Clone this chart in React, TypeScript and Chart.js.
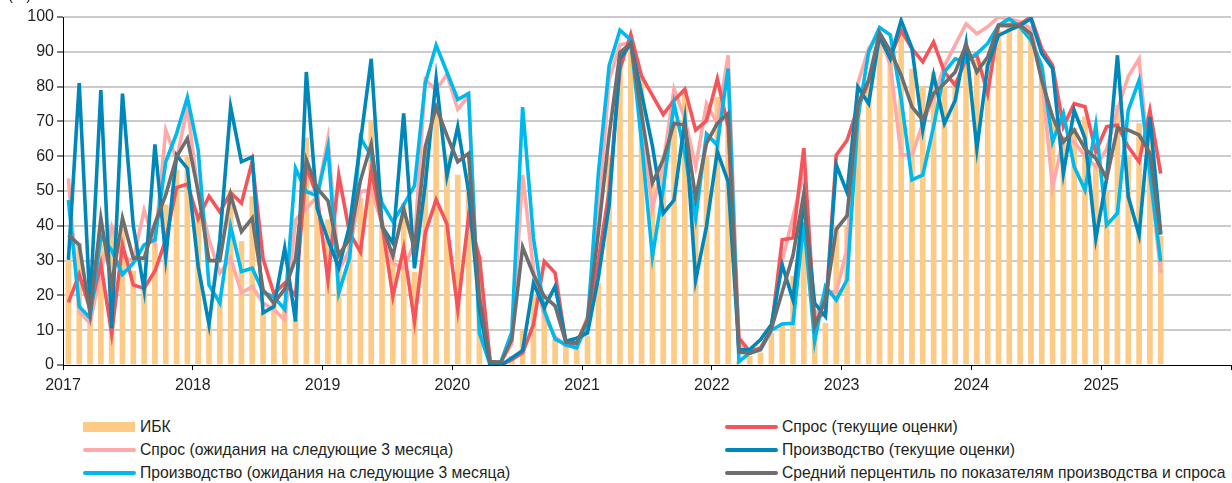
import React, { useEffect, useRef } from 'react';
import { Chart, registerables } from 'chart.js';

Chart.register(...registerables);

// Year tick labels (ticks every 12 months, starting January 2017)
const yearLabels = ['2017', '2018', '2019', '2020', '2021', '2022', '2023', '2024', '2025'];

// Monthly values, Jan 2017 – Jun 2025
const ibk = [
  30, 35, 15, 40, 40, 39, 27, 22.5, 35, 46, 56, 60,
  42.6, 11, 19, 50.3, 35.5, 48.4, 15, 18.7, 17.8, 13, 65.3, 48.4,
  41.7, 30, 35, 48, 70, 40.7, 33, 46.5, 26.7, 61.8, 74.2, 60.3,
  54.6, 55, 31, 0.5, 1, 2.5, 10, 19.7, 17, 7.3, 5.4, 4.9,
  8.2, 23.5, 60, 88, 92.4, 83, 52, 60, 70.4, 79, 45, 60,
  77, 70, 1, 2.5, 3.5, 9.2, 12, 25.5, 48, 8, 12, 40,
  40, 77, 79.4, 93, 88, 95.7, 85, 80, 84.2, 80, 82, 92,
  88, 88, 96, 99.5, 98.5, 97, 85, 71, 65, 68, 71.3, 58,
  50, 74.7, 60, 69.4, 68, 37,
];

const demandCurrent = [
  18, 26, 16, 29, 9, 34.5, 23, 22, 27, 36, 51, 52,
  42, 48.5, 44, 49.5, 46.5, 58.5, 30.5, 20.5, 23.5, 20, 57, 48.5,
  24.5, 54.5, 38, 32.5, 56, 40.5, 19.7, 33.6, 12.5, 38, 47.5, 40.5,
  16, 42.5, 31, 1, 0, 1.5, 3.5, 11.6, 29.8, 26.5, 6.3, 6.3,
  13, 30, 50, 85, 95, 83, 77.5, 72, 76, 79.2, 67.5, 70.2,
  82.2, 68.4, 7.7, 3.9, 4.9, 10.3, 36, 36.5, 62.3, 13, 15, 60.3,
  64.6, 74, 81.4, 93.8, 88.5, 96.2, 90.9, 87.1, 92.8, 84.2, 80.4, 88,
  89, 78, 97.6, 97.6, 98, 100, 90.9, 86.1, 68.5, 75.1, 74.2, 61.3,
  68.5, 68.9, 62.7, 58.4, 73.2, 55,
];

const demandExpected = [
  53.6, 15.4, 12, 27, 39.8, 31, 30, 44.5, 35, 67.5, 59, 74.2,
  49.3, 36, 26.4, 30.7, 20.7, 22.6, 17.8, 15.9, 13, 41.7, 45, 48.4,
  65.1, 27.3, 33, 49.8, 50.3, 40.7, 29.3, 27.8, 35, 82, 79, 83.5,
  73.5, 77.3, 12, 0.5, 1, 6, 54.6, 27.3, 14, 8.2, 5.4, 5.8,
  14, 42, 82, 92, 92.6, 70, 45, 58, 79.3, 70.7, 57, 75.1,
  69.4, 89, 6.3, 3.5, 4.5, 10, 30, 42.6, 55, 13, 21, 21,
  33.5, 81, 91, 95, 86.1, 60.3, 60.3, 69.4, 77, 86, 92, 98,
  95.2, 97.2, 100, 99.5, 98.6, 96.7, 82.8, 51, 65.2, 64.1, 60, 57,
  62, 73.3, 82.9, 88, 55, 26.4,
];

const productionCurrent = [
  30.2, 81, 17, 79, 10.6, 78, 40, 21.6, 63.4, 31, 60.3, 56.5,
  28.3, 11.6, 36, 74.2, 58.4, 59.8, 15, 16.8, 33.6, 12.5, 84.2, 45,
  36, 28, 40, 64, 88, 39.8, 35, 72.3, 27.8, 52, 82.3, 54.3,
  68.5, 50, 16, 0, 0, 2, 4.2, 23.5, 16.5, 22.6, 6.8, 7.7,
  9.2, 25, 46, 88, 92.4, 78, 63, 43.6, 47.4, 70.4, 24.5, 39.8,
  61.3, 52.7, 4.4, 4.4, 7.3, 11.6, 28.8, 18.7, 47.5, 17.8, 14, 57.5,
  49.6, 79.9, 75.1, 94.7, 88, 99, 91, 67.5, 83.3, 69.4, 76.1, 92.5,
  62.2, 86.1, 94.7, 96.2, 97.6, 99.5, 89.5, 85.2, 55.1, 73.2, 65.1, 36.4,
  53.6, 89, 48.4, 37.4, 71.3, 37.9,
];

const productionExpected = [
  47.4, 16.8, 13.5, 37, 33, 26, 29.3, 34.5, 36, 58.4, 66.5, 76.9,
  61.8, 23, 17.8, 39.8, 26.9, 27.8, 21, 19.5, 16, 56.5, 49.8, 48.6,
  62.5, 20.7, 30.8, 65.3, 60, 46.5, 41.2, 46, 51.5, 81, 91.9, 84.2,
  76.3, 78, 9.2, 0, 1, 9.5, 74.1, 36.5, 15.6, 7.5, 5.8, 4.9,
  12, 55, 86, 96.2, 93.4, 64, 31.2, 50.5, 75.1, 60.8, 42.2, 66.4,
  63.2, 85.2, 1, 3.4, 4.4, 10, 11.8, 12, 41, 6.8, 22.6, 18.7,
  24.5, 71, 90, 97, 94.8, 76.5, 53.2, 54.6, 68.5, 84.2, 88, 87.1,
  89.5, 92.4, 97.6, 99.5, 97.1, 93.3, 86.1, 64.1, 72.3, 57, 50.3, 68.9,
  40.2, 43.6, 73.2, 81.8, 55, 29.7,
];

const averagePercentile = [
  37.4, 34.5, 14.9, 42.2, 23, 42.2, 30.7, 30.7, 40.7, 48.9, 59.8, 65.1,
  49.8, 30, 30, 48.9, 38.3, 42.2, 21.6, 17.8, 21.8, 30.5, 59, 50.8,
  47.2, 31.6, 36.2, 53, 63.5, 40.2, 31.4, 44.8, 33.4, 62.7, 74.2, 66,
  58.4, 60.8, 19.5, 1, 0.8, 7.3, 33.9, 26, 19.7, 17, 6.5, 6.3,
  13, 38, 66, 89.8, 92.4, 72, 52.3, 59, 69.4, 69, 48, 63.7,
  69.4, 72.3, 3.7, 3.4, 4.5, 10.4, 21, 31.5, 49.2, 11, 18.8, 39,
  42.9, 74.7, 82, 95.5, 90.2, 83.3, 74.2, 70.4, 78, 80.9, 84.2, 92,
  84.2, 88.5, 97.6, 97.6, 97.6, 95.2, 81.8, 71.3, 64.1, 67.5, 62.2, 59.4,
  53.6, 68, 67.5, 66.1, 60.8, 37.4,
];

const seriesNames = {
  ibk: 'ИБК',
  demandCurrent: 'Спрос (текущие оценки)',
  demandExpected: 'Спрос (ожидания на следующие 3 месяца)',
  productionCurrent: 'Производство (текущие оценки)',
  productionExpected: 'Производство (ожидания на следующие 3 месяца)',
  averagePercentile: 'Средний перцентиль по показателям производства и спроса',
};

const COLORS = {
  ibk: '#FDCB86',
  demandCurrent: '#F5545A',
  demandExpected: '#FFA9A9',
  productionCurrent: '#0087B9',
  productionExpected: '#00B9EC',
  averagePercentile: '#6E6E6E',
};

const FONT = '"Liberation Sans", Arial, sans-serif';
const TEXT_COLOR = '#231f20';

const toPoints = (arr: number[]) => arr.map((v, i) => ({ x: i + 0.5, y: v }));

const legendRows: { key: keyof typeof seriesNames; col: number; row: number; kind: 'bar' | 'line' }[] = [
  { key: 'ibk', col: 0, row: 0, kind: 'bar' },
  { key: 'demandCurrent', col: 1, row: 0, kind: 'line' },
  { key: 'demandExpected', col: 0, row: 1, kind: 'line' },
  { key: 'productionCurrent', col: 1, row: 1, kind: 'line' },
  { key: 'productionExpected', col: 0, row: 2, kind: 'line' },
  { key: 'averagePercentile', col: 1, row: 2, kind: 'line' },
];

export default function App() {
  const canvasRef = useRef<HTMLCanvasElement | null>(null);

  useEffect(() => {
    const canvas = canvasRef.current;
    if (!canvas) return;
    const lineDs = (key: keyof typeof COLORS, data: number[], order: number) => ({
      type: 'line' as const,
      label: seriesNames[key],
      data: toPoints(data),
      borderColor: COLORS[key],
      backgroundColor: COLORS[key],
      borderWidth: 3.6,
      pointRadius: 0,
      pointHoverRadius: 0,
      tension: 0,
      fill: false,
      order,
    });
    const chart = new Chart(canvas, {
      type: 'bar',
      data: {
        datasets: [
          lineDs('averagePercentile', averagePercentile, 0),
          lineDs('productionCurrent', productionCurrent, 1),
          lineDs('productionExpected', productionExpected, 2),
          lineDs('demandCurrent', demandCurrent, 3),
          lineDs('demandExpected', demandExpected, 4),
          {
            type: 'bar' as const,
            label: seriesNames.ibk,
            data: toPoints(ibk),
            backgroundColor: COLORS.ibk,
            borderWidth: 0,
            barThickness: 5,
            order: 10,
          },
        ] as any,
      },
      options: {
        responsive: false,
        animation: false,
        devicePixelRatio: 1,
        layout: { padding: { top: 17, right: 1, left: 0, bottom: 0 } },
        plugins: {
          legend: { display: false },
          tooltip: { enabled: false },
        },
        scales: {
          x: {
            type: 'linear',
            min: 0,
            max: 108,
            offset: false,
            ticks: {
              stepSize: 12,
              autoSkip: false,
              maxRotation: 0,
              padding: 6,
              color: TEXT_COLOR,
              font: { family: FONT, size: 16 },
              callback: (v: any) => {
                const k = Math.round(Number(v) / 12);
                return yearLabels[k] ?? '';
              },
            },
            grid: {
              offset: false,
              drawOnChartArea: false,
              drawTicks: true,
              tickLength: 5,
              tickColor: '#000',
              tickWidth: 1,
            },
            border: { color: '#000', width: 1 },
            afterFit: (s: any) => {
              s.height = 30;
              s.paddingRight = 0;
              s.paddingLeft = 0;
            },
          },
          y: {
            min: 0,
            max: 100,
            ticks: {
              stepSize: 10,
              padding: 3,
              color: TEXT_COLOR,
              font: { family: FONT, size: 16 },
            },
            grid: {
              color: (c: any) => (c.tick && c.tick.value === 0 ? 'rgba(0,0,0,0)' : '#cbcbcb'),
              lineWidth: 2,
              tickLength: 6,
              tickColor: '#000',
              tickWidth: 1,
            },
            border: { color: '#000', width: 1 },
            afterFit: (s: any) => {
              s.width = 63;
            },
          },
        },
      } as any,
    });
    return () => chart.destroy();
  }, []);

  const colLeft = [83, 725];
  const rowTop = [427, 450, 473];

  return (
    <div style={{ position: 'fixed', left: 0, top: 0, width: 1232, height: 483, background: '#fff', overflow: 'hidden' }}>
      <canvas ref={canvasRef} width={1232} height={395} style={{ position: 'absolute', left: 0, top: 0, width: 1232, height: 395 }} />
      <div style={{ position: 'absolute', left: 8, top: -13, fontFamily: FONT, fontSize: 15, lineHeight: '16px', color: TEXT_COLOR }}>(%)</div>
      {legendRows.map((it) => {
        const x = colLeft[it.col];
        const yc = rowTop[it.row];
        return (
          <React.Fragment key={it.key}>
            {it.kind === 'bar' ? (
              <div style={{ position: 'absolute', left: x, top: yc - 5, width: 52, height: 10, background: COLORS[it.key] }} />
            ) : (
              <div style={{ position: 'absolute', left: x, top: yc - 2, width: 53, height: 4, borderRadius: 2, background: COLORS[it.key] }} />
            )}
            <div
              style={{
                position: 'absolute',
                left: x + 57,
                top: yc - 10,
                height: 20,
                lineHeight: '20px',
                fontFamily: FONT,
                fontSize: 15.7,
                color: TEXT_COLOR,
                whiteSpace: 'nowrap',
              }}
            >
              {seriesNames[it.key]}
            </div>
          </React.Fragment>
        );
      })}
    </div>
  );
}
